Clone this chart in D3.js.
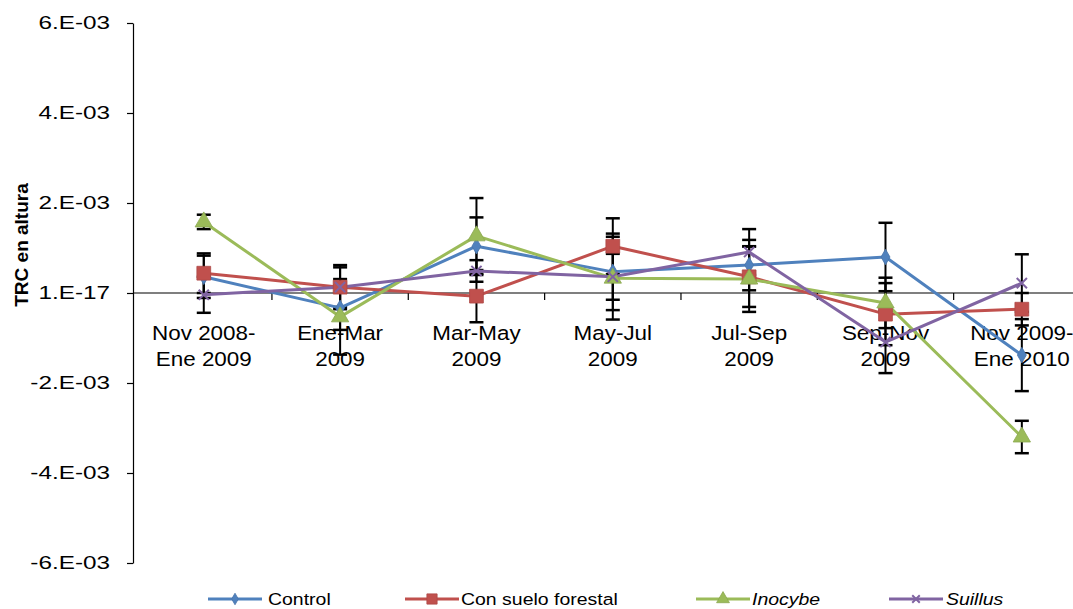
<!DOCTYPE html>
<html>
<head>
<meta charset="utf-8">
<script src="https://cdn.jsdelivr.net/npm/d3@7"></script>
<style>
  html, body { margin: 0; padding: 0; background: #fff; }
  svg { display: block; }
  text { font-family: Arial, "Liberation Sans", sans-serif; fill: #000; }
</style>
</head>
<body>
<svg id="chart" width="1073" height="609"></svg>
<script>
// Periods (two-line labels)
const categories = [
  ["Nov 2008-", "Ene 2009"],
  ["Ene-Mar", "2009"],
  ["Mar-May", "2009"],
  ["May-Jul", "2009"],
  ["Jul-Sep", "2009"],
  ["Sep-Nov", "2009"],
  ["Nov 2009-", "Ene 2010"]
];

// Relative growth rate in height, per treatment
const control  = [0.00036, -0.00033, 0.00104, 0.00047, 0.00062, 0.00080, -0.00138];
const suelo    = [0.00044,  0.00013, -0.00007, 0.00104, 0.00036, -0.00047, -0.00036];
const inocybe  = [0.00158, -0.00053, 0.00127, 0.00033, 0.00031, -0.00022, -0.00320];
const suillus  = [-0.00004, 0.00013, 0.00049, 0.00036, 0.00091, -0.00109, 0.00022];

// Standard errors
const controlErr = [0.00047, 0.00049, 0.00064, 0.00085, 0.00056, 0.00076, 0.00080];
const sueloErr   = [0.00044, 0.00049, 0.00058, 0.00062, 0.00067, 0.00069, 0.00036];
const inocybeErr = [0.00016, 0.00084, 0.00084, 0.00092, 0.00073, 0.00056, 0.00036];
const suillusErr = [0.00040, 0.00044, 0.00024, 0.00051, 0.00051, 0.00069, 0.00064];

const yTickValues = [-0.006, -0.004, -0.002, 0, 0.002, 0.004, 0.006];
const yTickLabels = ["-6.E-03", "-4.E-03", "-2.E-03", "1.E-17", "2.E-03", "4.E-03", "6.E-03"];

const series = [
  { name: "Control", values: control, err: controlErr, color: "#4F81BD", symbol: d3.symbolDiamond, size: 70, italic: false, stroke: false },
  { name: "Con suelo forestal", values: suelo, err: sueloErr, color: "#C0504D", symbol: d3.symbolSquare, size: 190, italic: false, stroke: false },
  { name: "Inocybe", values: inocybe, err: inocybeErr, color: "#9BBB59", symbol: d3.symbolTriangle, size: 130, italic: true, stroke: false },
  { name: "Suillus", values: suillus, err: suillusErr, color: "#8064A2", symbol: d3.symbolX, size: 70, italic: true, stroke: true }
];

const svg = d3.select("#chart");
const plotLeft = 133, plotTop = 23, plotBottom = 563;

const x = d3.scaleBand()
  .domain(d3.range(categories.length))
  .range([135.6, 1090])
  .paddingInner(0).paddingOuter(0);
const cx = i => x(i) + x.bandwidth() / 2;

const y = d3.scaleLinear().domain([-0.006, 0.006]).range([plotBottom, plotTop]);

// stretched text helper
function stretch(sel, sx) {
  sel.attr("transform", function () {
    const px = +this.getAttribute("data-x"), py = +this.getAttribute("data-y");
    return `translate(${px},${py}) scale(${sx},1)`;
  });
}

// Y axis
const yAxis = svg.append("g")
  .attr("transform", `translate(${plotLeft},0)`)
  .call(d3.axisLeft(y).tickValues(yTickValues)
    .tickFormat((d, i) => yTickLabels[i]).tickSize(6).tickSizeOuter(0));
yAxis.select(".domain").attr("stroke", "#000").attr("stroke-width", 1.2);
yAxis.selectAll(".tick line").attr("stroke", "#000").attr("stroke-width", 1.2);
yAxis.selectAll(".tick text").remove();
yAxis.selectAll(".tick").append("text")
  .attr("data-x", -23).attr("data-y", 5)
  .attr("text-anchor", "end")
  .attr("font-size", 18)
  .text((d, i) => yTickLabels[i])
  .call(stretch, 1.35);

// Y axis title
svg.append("text")
  .attr("transform", "translate(28,245) rotate(-90)")
  .attr("text-anchor", "middle")
  .attr("font-size", 19)
  .attr("font-weight", "bold")
  .text("TRC en altura");

// X axis at zero
const y0 = y(0);
svg.append("line")
  .attr("x1", plotLeft).attr("x2", 1073)
  .attr("y1", y0).attr("y2", y0)
  .attr("stroke", "#000").attr("stroke-width", 1.2);
svg.append("g").selectAll("line")
  .data(d3.range(1, categories.length))
  .join("line")
  .attr("x1", i => x(i)).attr("x2", i => x(i))
  .attr("y1", y0).attr("y2", y0 + 7)
  .attr("stroke", "#000").attr("stroke-width", 1.2);

// Category labels
const catG = svg.append("g");
categories.forEach((lines, i) => {
  lines.forEach((t, j) => {
    catG.append("text")
      .attr("data-x", cx(i)).attr("data-y", 340 + j * 26)
      .attr("text-anchor", "middle")
      .attr("font-size", 19.5)
      .text(t)
      .call(stretch, 1.15);
  });
});

// Error bars
const errG = svg.append("g");
series.forEach(s => {
  s.values.forEach((v, i) => {
    const xi = cx(i), y1 = y(v + s.err[i]), y2 = y(v - s.err[i]);
    errG.append("line").attr("x1", xi).attr("x2", xi).attr("y1", y1).attr("y2", y2)
      .attr("stroke", "#000").attr("stroke-width", 2);
    [y1, y2].forEach(yy => errG.append("line")
      .attr("x1", xi - 7).attr("x2", xi + 7).attr("y1", yy).attr("y2", yy)
      .attr("stroke", "#000").attr("stroke-width", 2.5));
  });
});

// Lines
const line = d3.line().x((d, i) => cx(i)).y(d => y(d));
series.forEach(s => {
  svg.append("path").datum(s.values)
    .attr("d", line)
    .attr("fill", "none")
    .attr("stroke", s.color)
    .attr("stroke-width", 3)
    .attr("stroke-linejoin", "round");
});

// Markers
function marker(g, s) {
  const p = g.append("path").attr("d", d3.symbol(s.symbol, s.size)());
  if (s.stroke) p.attr("fill", "none").attr("stroke", s.color).attr("stroke-width", 2);
  else p.attr("fill", s.color).attr("stroke", d3.color(s.color).darker(0.3)).attr("stroke-width", 0.8);
  return p;
}
series.forEach(s => {
  s.values.forEach((v, i) => {
    const g = svg.append("g").attr("transform", `translate(${cx(i)},${y(v)})`);
    marker(g, s);
  });
});

// Legend
const legendItems = [
  { lx: 208, tx: 268 },
  { lx: 405, tx: 461 },
  { lx: 696, tx: 752 },
  { lx: 889, tx: 946 }
];
const ly = 599;
series.forEach((s, k) => {
  const it = legendItems[k];
  svg.append("line").attr("x1", it.lx).attr("x2", it.lx + 54)
    .attr("y1", ly).attr("y2", ly)
    .attr("stroke", s.color).attr("stroke-width", 3);
  const g = svg.append("g").attr("transform", `translate(${it.lx + 27},${ly})`);
  marker(g, Object.assign({}, s, { size: s.size * 0.55 }));
  svg.append("text")
    .attr("data-x", it.tx).attr("data-y", ly + 6)
    .attr("font-size", 16.5)
    .attr("font-style", s.italic ? "italic" : "normal")
    .text(s.name)
    .call(stretch, 1.18);
});
</script>
</body>
</html>
